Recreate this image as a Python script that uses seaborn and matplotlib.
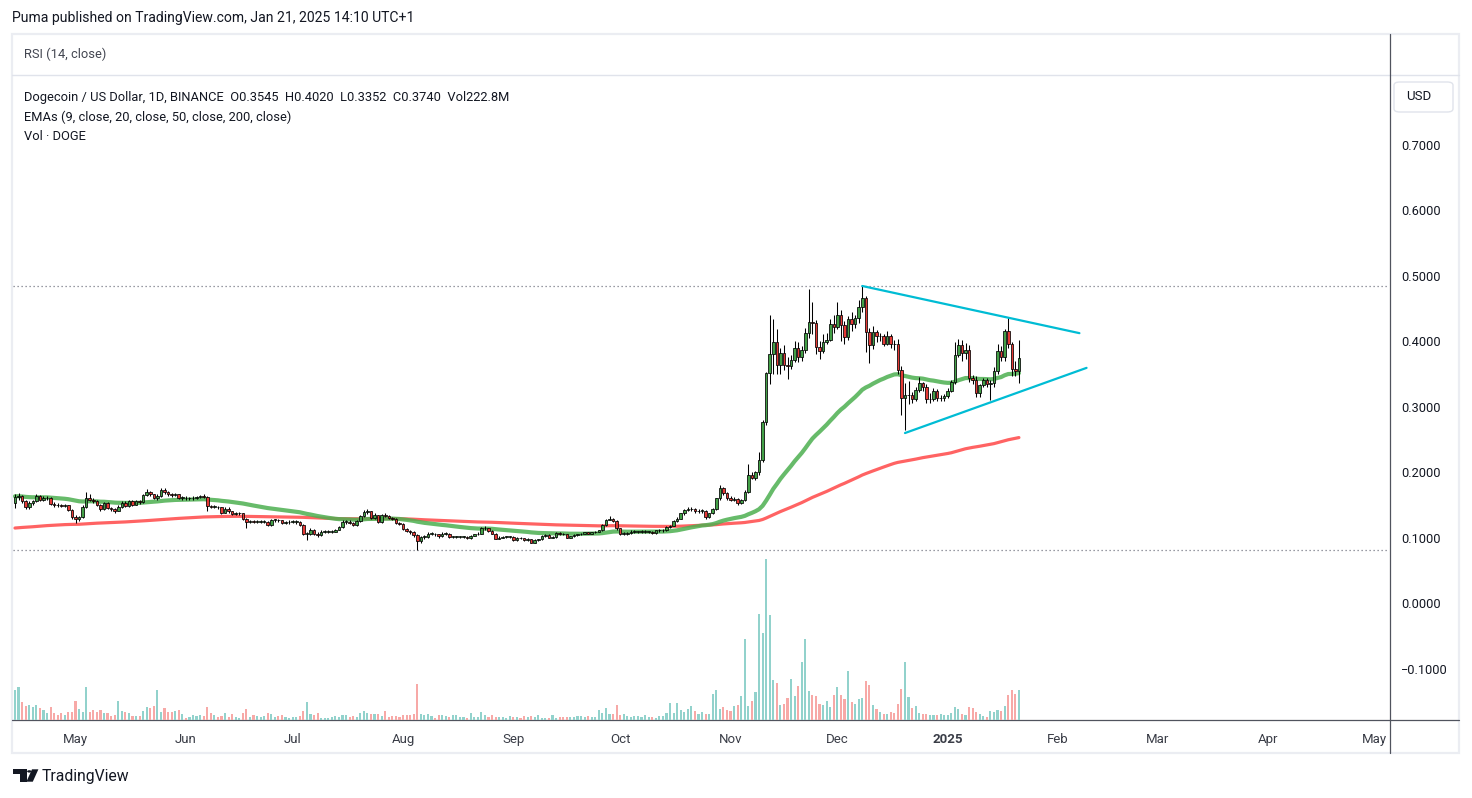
import numpy as np
import pandas as pd
import matplotlib
matplotlib.use("Agg")
import matplotlib.pyplot as plt
import seaborn as sns
from matplotlib.patches import FancyBboxPatch, Polygon, Rectangle, Circle
from matplotlib.lines import Line2D

# ---------------- data ----------------
start_date = "2024-04-14"
first_open = 0.152

close = [
    0.162, 0.163, 0.155, 0.147, 0.152, 0.156, 0.164, 0.158, 0.160, 0.161,
    0.151, 0.150, 0.149, 0.148, 0.149, 0.142, 0.132, 0.129, 0.131, 0.147,
    0.160, 0.158, 0.156, 0.150, 0.144, 0.152, 0.145, 0.143, 0.141, 0.147,
    0.153, 0.148, 0.155, 0.150, 0.155, 0.154, 0.165, 0.169, 0.166, 0.161,
    0.164, 0.172, 0.170, 0.166, 0.165, 0.166, 0.161, 0.161, 0.160, 0.160,
    0.161, 0.162, 0.163, 0.162, 0.148, 0.147, 0.147, 0.146, 0.138, 0.144,
    0.140, 0.136, 0.137, 0.137, 0.129, 0.124, 0.125, 0.124, 0.124, 0.124,
    0.124, 0.119, 0.127, 0.127, 0.126, 0.122, 0.123, 0.124, 0.124, 0.124,
    0.119, 0.106, 0.106, 0.112, 0.106, 0.104, 0.109, 0.109, 0.109, 0.109,
    0.112, 0.116, 0.124, 0.124, 0.122, 0.119, 0.125, 0.133, 0.139, 0.140,
    0.130, 0.134, 0.124, 0.134, 0.133, 0.130, 0.129, 0.122, 0.121, 0.113,
    0.110, 0.109, 0.104, 0.094, 0.101, 0.101, 0.106, 0.106, 0.105, 0.102,
    0.106, 0.106, 0.101, 0.101, 0.101, 0.101, 0.101, 0.099, 0.103, 0.105,
    0.106, 0.114, 0.114, 0.110, 0.106, 0.098, 0.100, 0.101, 0.101, 0.101,
    0.096, 0.100, 0.099, 0.096, 0.097, 0.092, 0.096, 0.097, 0.103, 0.104,
    0.100, 0.101, 0.107, 0.106, 0.105, 0.100, 0.102, 0.104, 0.105, 0.106,
    0.108, 0.106, 0.108, 0.109, 0.111, 0.119, 0.127, 0.129, 0.125, 0.114,
    0.106, 0.106, 0.107, 0.109, 0.109, 0.109, 0.109, 0.109, 0.109, 0.107,
    0.111, 0.111, 0.111, 0.116, 0.118, 0.125, 0.129, 0.137, 0.142, 0.143,
    0.143, 0.140, 0.141, 0.141, 0.131, 0.137, 0.143, 0.160, 0.175, 0.168,
    0.161, 0.157, 0.159, 0.152, 0.157, 0.170, 0.196, 0.191, 0.200, 0.218,
    0.276, 0.351, 0.380, 0.399, 0.363, 0.381, 0.363, 0.362, 0.371, 0.390,
    0.376, 0.386, 0.412, 0.429, 0.427, 0.391, 0.385, 0.399, 0.402, 0.426,
    0.422, 0.440, 0.424, 0.406, 0.433, 0.426, 0.435, 0.452, 0.465, 0.414,
    0.394, 0.414, 0.407, 0.407, 0.396, 0.407, 0.396, 0.395, 0.356, 0.3125,
    0.317, 0.318, 0.311, 0.325, 0.336, 0.330, 0.311, 0.312, 0.323, 0.313,
    0.313, 0.316, 0.324, 0.338, 0.379, 0.394, 0.381, 0.387, 0.343, 0.341,
    0.320, 0.333, 0.341, 0.334, 0.336, 0.354, 0.385, 0.376, 0.415, 0.396,
    0.357, 0.3545, 0.374,
]

high = [
    0.167, 0.168, 0.165, 0.157, 0.155, 0.158, 0.166, 0.165, 0.163, 0.163,
    0.162, 0.154, 0.152, 0.151, 0.151, 0.150, 0.143, 0.134, 0.133, 0.149,
    0.170, 0.166, 0.160, 0.158, 0.151, 0.154, 0.154, 0.147, 0.145, 0.149,
    0.156, 0.155, 0.157, 0.157, 0.157, 0.157, 0.167, 0.174, 0.171, 0.167,
    0.166, 0.176, 0.175, 0.171, 0.168, 0.168, 0.167, 0.163, 0.163, 0.162,
    0.163, 0.164, 0.165, 0.166, 0.164, 0.150, 0.149, 0.148, 0.147, 0.146,
    0.146, 0.141, 0.139, 0.139, 0.138, 0.130, 0.127, 0.127, 0.126, 0.126,
    0.126, 0.125, 0.129, 0.129, 0.129, 0.127, 0.125, 0.126, 0.126, 0.126,
    0.125, 0.120, 0.108, 0.114, 0.113, 0.108, 0.111, 0.111, 0.111, 0.111,
    0.113, 0.118, 0.126, 0.127, 0.126, 0.124, 0.127, 0.135, 0.142, 0.144,
    0.141, 0.137, 0.135, 0.136, 0.138, 0.134, 0.132, 0.130, 0.124, 0.122,
    0.115, 0.112, 0.110, 0.105, 0.103, 0.104, 0.108, 0.109, 0.107, 0.106,
    0.108, 0.109, 0.107, 0.103, 0.103, 0.103, 0.103, 0.103, 0.104, 0.106,
    0.108, 0.116, 0.117, 0.115, 0.111, 0.107, 0.102, 0.103, 0.103, 0.103,
    0.102, 0.101, 0.101, 0.100, 0.099, 0.098, 0.097, 0.098, 0.104, 0.106,
    0.105, 0.103, 0.108, 0.108, 0.107, 0.106, 0.103, 0.105, 0.106, 0.107,
    0.109, 0.109, 0.109, 0.110, 0.112, 0.121, 0.129, 0.133, 0.130, 0.126,
    0.115, 0.109, 0.109, 0.111, 0.111, 0.110, 0.112, 0.111, 0.110, 0.110,
    0.112, 0.113, 0.113, 0.117, 0.119, 0.126, 0.132, 0.138, 0.144, 0.146,
    0.146, 0.145, 0.143, 0.144, 0.142, 0.138, 0.145, 0.161, 0.180, 0.177,
    0.169, 0.164, 0.162, 0.160, 0.159, 0.172, 0.213, 0.200, 0.202, 0.230,
    0.279, 0.352, 0.440, 0.433, 0.418, 0.390, 0.394, 0.375, 0.378, 0.400,
    0.398, 0.392, 0.420, 0.479, 0.460, 0.432, 0.400, 0.410, 0.412, 0.434,
    0.440, 0.460, 0.448, 0.430, 0.438, 0.445, 0.440, 0.462, 0.484, 0.468,
    0.420, 0.423, 0.417, 0.412, 0.410, 0.415, 0.410, 0.402, 0.403, 0.362,
    0.336, 0.339, 0.322, 0.330, 0.345, 0.338, 0.335, 0.320, 0.328, 0.326,
    0.318, 0.319, 0.328, 0.340, 0.399, 0.403, 0.402, 0.397, 0.394, 0.348,
    0.347, 0.335, 0.344, 0.344, 0.341, 0.360, 0.395, 0.392, 0.419, 0.436,
    0.399, 0.370, 0.402,
]

low = [
    0.145, 0.158, 0.153, 0.143, 0.144, 0.149, 0.154, 0.155, 0.156, 0.157,
    0.149, 0.147, 0.146, 0.146, 0.146, 0.140, 0.129, 0.122, 0.125, 0.130,
    0.145, 0.155, 0.153, 0.148, 0.141, 0.142, 0.143, 0.140, 0.138, 0.140,
    0.145, 0.146, 0.147, 0.148, 0.149, 0.151, 0.152, 0.163, 0.163, 0.159,
    0.158, 0.162, 0.167, 0.164, 0.162, 0.163, 0.159, 0.158, 0.158, 0.157,
    0.158, 0.159, 0.160, 0.160, 0.141, 0.145, 0.145, 0.144, 0.136, 0.137,
    0.138, 0.134, 0.134, 0.134, 0.127, 0.114, 0.122, 0.122, 0.122, 0.122,
    0.122, 0.117, 0.118, 0.124, 0.124, 0.120, 0.120, 0.121, 0.122, 0.121,
    0.117, 0.104, 0.096, 0.104, 0.104, 0.101, 0.103, 0.107, 0.107, 0.107,
    0.108, 0.111, 0.115, 0.121, 0.120, 0.117, 0.118, 0.124, 0.132, 0.136,
    0.128, 0.128, 0.122, 0.122, 0.131, 0.128, 0.127, 0.120, 0.119, 0.111,
    0.108, 0.106, 0.101, 0.081, 0.092, 0.098, 0.100, 0.104, 0.102, 0.100,
    0.101, 0.104, 0.100, 0.099, 0.099, 0.099, 0.099, 0.097, 0.098, 0.102,
    0.104, 0.105, 0.112, 0.109, 0.105, 0.097, 0.097, 0.099, 0.099, 0.099,
    0.094, 0.095, 0.097, 0.095, 0.095, 0.091, 0.091, 0.095, 0.096, 0.101,
    0.099, 0.099, 0.100, 0.104, 0.104, 0.099, 0.099, 0.101, 0.103, 0.104,
    0.105, 0.105, 0.105, 0.107, 0.108, 0.110, 0.118, 0.126, 0.124, 0.111,
    0.104, 0.104, 0.104, 0.106, 0.107, 0.107, 0.107, 0.107, 0.107, 0.105,
    0.106, 0.109, 0.109, 0.110, 0.114, 0.117, 0.124, 0.128, 0.135, 0.140,
    0.140, 0.138, 0.138, 0.138, 0.129, 0.130, 0.136, 0.142, 0.158, 0.165,
    0.158, 0.155, 0.155, 0.149, 0.151, 0.155, 0.168, 0.189, 0.188, 0.196,
    0.216, 0.272, 0.335, 0.350, 0.350, 0.350, 0.355, 0.342, 0.358, 0.368,
    0.368, 0.370, 0.382, 0.405, 0.410, 0.380, 0.373, 0.382, 0.395, 0.400,
    0.412, 0.418, 0.400, 0.396, 0.402, 0.415, 0.420, 0.427, 0.445, 0.383,
    0.366, 0.388, 0.398, 0.400, 0.392, 0.394, 0.390, 0.387, 0.350, 0.2875,
    0.264, 0.304, 0.305, 0.308, 0.322, 0.323, 0.306, 0.306, 0.309, 0.308,
    0.308, 0.309, 0.313, 0.322, 0.334, 0.376, 0.370, 0.372, 0.338, 0.334,
    0.315, 0.315, 0.330, 0.330, 0.310, 0.330, 0.350, 0.370, 0.370, 0.389,
    0.347, 0.347, 0.3352,
]

volume = [
    30, 33, 18, 14, 15, 13, 15, 12, 10, 7,
    13, 7, 5, 7, 5, 8, 8, 19, 11, 8,
    33, 8, 10, 8, 10, 7, 7, 4, 5, 19,
    9, 8, 7, 4, 4, 4, 9, 13, 12, 14,
    30, 8, 12, 8, 8, 9, 10, 6, 2, 3,
    5, 4, 5, 4, 13, 7, 5, 3, 4, 7,
    3, 6, 3, 2, 7, 11, 3, 5, 4, 3,
    4, 7, 6, 3, 4, 5, 3, 2, 3, 3,
    4, 9, 18, 6, 5, 7, 2, 2, 2, 3,
    4, 3, 5, 5, 3, 4, 3, 7, 9, 7,
    6, 6, 6, 4, 9, 3, 4, 4, 3, 5,
    5, 5, 6, 36, 6, 5, 6, 4, 2, 5,
    5, 4, 3, 5, 5, 3, 3, 2, 7, 3,
    3, 8, 5, 3, 5, 3, 3,
    3, 2, 4, 3, 3, 2, 4, 3, 4, 3, 5, 2, 2, 2, 5, 2, 3, 3, 3, 3,
    3, 4, 4, 3, 4, 3, 3, 10,
    7, 12, 6, 6, 15, 5, 6, 4, 3, 4, 4, 3, 5, 3, 3, 2, 4, 4, 7, 17,
    7, 17, 10, 8, 11, 14, 9, 6, 8, 6,
    6, 26, 30, 11, 13, 10, 9, 14, 15, 24, 81, 14, 19, 28, 106, 87, 161, 105, 40, 37,
    15, 16, 22, 41, 24, 34, 58, 81, 29, 25,
    24, 16, 15, 19, 13, 25, 33, 25, 21, 49, 18,
    16, 21, 22, 39, 35, 15, 11, 8, 6, 6, 8, 7, 16, 31, 58, 23, 12, 14, 7, 6,
    6, 5, 5, 5, 6, 5, 5, 7, 13, 11, 6, 5, 13, 12, 8, 6, 4, 3, 9, 8,
    10, 9, 14, 25, 30, 26, 30,
]

ema50_seed = 0.163
ema200_seed = 0.114

upper_trend_dates = ["2024-12-08", "2025-02-07"]
upper_trend_values = [0.484, 0.412]
lower_trend_dates = ["2024-12-20", "2025-02-09"]
lower_trend_values = [0.2595, 0.359]

month_tick_dates = ["2024-05-01", "2024-06-01", "2024-07-01", "2024-08-01",
                    "2024-09-01", "2024-10-01", "2024-11-01", "2024-12-01",
                    "2025-01-01", "2025-02-01", "2025-03-01", "2025-04-01",
                    "2025-05-01"]
month_tick_labels = ["May", "Jun", "Jul", "Aug", "Sep", "Oct", "Nov", "Dec",
                     "2025", "Feb", "Mar", "Apr", "May"]
price_ticks = [0.7, 0.6, 0.5, 0.4, 0.3, 0.2, 0.1, 0.0, -0.1]

title_text = "Puma published on TradingView.com, Jan 21, 2025 14:10 UTC+1"
symbol_text = "Dogecoin / US Dollar, 1D, BINANCE"
last_volume_text = "222.8M"

# ---------------- derived ----------------
n = len(close)
assert len(high) == n and len(low) == n and len(volume) == n, (len(high), len(low), len(volume))
start = pd.Timestamp(start_date)
x = np.arange(n)
c = np.array(close)
o = np.concatenate([[first_open], c[:-1]])
h = np.array(high)
l = np.array(low)
v = np.array(volume, dtype=float)
up = c >= o

df = pd.DataFrame({"x": x, "close": c})
df["ema50"] = pd.Series([ema50_seed] + close).ewm(span=50, adjust=False).mean().values[1:]
df["ema200"] = pd.Series([ema200_seed] + close).ewm(span=200, adjust=False).mean().values[1:]

def to_x(dlist):
    return [(pd.Timestamp(d) - start).days for d in dlist]

# ---------------- figure ----------------
W, H = 1472, 798
sns.set_theme(style="white")
plt.rcParams["font.family"] = ["Roboto", "DejaVu Sans"]
plt.rcParams["axes.unicode_minus"] = True

fig = plt.figure(figsize=(W / 100, H / 100), dpi=100)
fig.patch.set_facecolor("white")

def fx(px):
    return px / W

def fy(py):
    return 1 - py / H

TXT = "#131722"
GRID = "#e0e3eb"
DARK = "#50535e"

left, right, top, bottom = 13, 1389, 76, 720
ax = fig.add_axes([fx(left), fy(bottom), fx(right - left), (bottom - top) / H])
vax = ax.twinx()
ax.set_zorder(3)
vax.set_zorder(2)
ax.patch.set_visible(False)
vax.patch.set_visible(False)

xmin, xmax = -0.56, 385.96
ymin, ymax = -0.1786, 0.8046
ax.set_xlim(xmin, xmax)
ax.set_ylim(ymin, ymax)
vax.set_ylim(0, v.max() * (bottom - top) / 161.0)

# volume
vol_colors = np.where(up, "#92d2cc", "#f7a9a7")
vax.bar(x, v, width=0.6, color=vol_colors, linewidth=0, zorder=1)
vax.set_yticks([])
for s in vax.spines.values():
    s.set_visible(False)

# EMAs
sns.lineplot(data=df, x="x", y="ema200", ax=ax, color="#ff5252", linewidth=2.3,
             alpha=0.9, zorder=2, legend=False)
sns.lineplot(data=df, x="x", y="ema50", ax=ax, color="#4caf50", linewidth=3.0,
             alpha=0.85, zorder=2, legend=False)

# candles
ax.vlines(x, l, h, color="black", linewidth=0.75, zorder=3)
body_bottom = np.minimum(o, c)
body_h = np.maximum(np.abs(c - o), 0.0006)
ax.bar(x, body_h, bottom=body_bottom, width=0.72,
       color=np.where(up, "#43a047", "#e53935"), edgecolor="black",
       linewidth=0.55, zorder=4)

# high / low dotted lines
ax.axhline(h.max(), color="#787b86", linestyle=(0, (1, 2.2)), linewidth=0.9, zorder=1)
ax.axhline(l.min(), color="#787b86", linestyle=(0, (1, 2.2)), linewidth=0.9, zorder=1)

# trend lines
tr_up = pd.DataFrame({"x": to_x(upper_trend_dates), "y": upper_trend_values})
tr_lo = pd.DataFrame({"x": to_x(lower_trend_dates), "y": lower_trend_values})
sns.lineplot(data=tr_up, x="x", y="y", ax=ax, color="#00bcd4", linewidth=1.6, zorder=5)
sns.lineplot(data=tr_lo, x="x", y="y", ax=ax, color="#00bcd4", linewidth=1.6, zorder=5)

# axes styling
for s in ax.spines.values():
    s.set_visible(False)
ax.set_xlabel("")
ax.set_ylabel("")
ax.grid(False)
ax.yaxis.tick_right()
ax.set_yticks(price_ticks)
ax.set_yticklabels([f"{t:.4f}".replace("-", "\u2212") for t in price_ticks])
ax.tick_params(axis="y", length=0, pad=8.5, labelsize=9.2, labelcolor=TXT)
ax.set_xticks(to_x(month_tick_dates))
ax.set_xticklabels(month_tick_labels)
ax.tick_params(axis="x", length=0, pad=9.5, labelsize=9.5, labelcolor="#3a3d47")
for lab in ax.get_xticklabels():
    if lab.get_text() == "2025":
        lab.set_fontweight("bold")

# ---------------- frame & decorations ----------------
fig.add_artist(Rectangle((fx(12), fy(753)), fx(1459 - 12), (753 - 34) / H,
                         fill=False, edgecolor="#ebedf2", linewidth=1.6,
                         transform=fig.transFigure, zorder=0))
fig.add_artist(Line2D([fx(12), fx(1459)], [fy(74.5), fy(74.5)], color=GRID,
                      linewidth=1.0, transform=fig.transFigure))
fig.add_artist(Line2D([fx(1389.5), fx(1389.5)], [fy(34), fy(753)], color=DARK,
                      linewidth=0.9, transform=fig.transFigure))
fig.add_artist(Line2D([fx(12), fx(1459)], [fy(719.5), fy(719.5)], color=DARK,
                      linewidth=0.9, transform=fig.transFigure))
fig.add_artist(FancyBboxPatch((fx(1394), fy(112)), fx(59), 30 / H,
                              boxstyle="round,pad=0,rounding_size=0.004",
                              facecolor="white", edgecolor=GRID, linewidth=1.0,
                              transform=fig.transFigure))
fig.text(fx(1419), fy(97), "USD", ha="center", va="center", fontsize=9.5, color=TXT)

fig.text(fx(12), fy(18), title_text, ha="left", va="center", fontsize=10.1, color=TXT)
fig.text(fx(24), fy(54), "RSI (14, close)", ha="left", va="center", fontsize=9.3, color="#434651")
legend_line = (f"{symbol_text}  O{o[-1]:.4f}  H{h[-1]:.4f}  L{l[-1]:.4f}  "
               f"C{c[-1]:.4f}  Vol{last_volume_text}")
fig.text(fx(24), fy(97), legend_line, ha="left", va="center", fontsize=9.3, color=TXT)
fig.text(fx(24), fy(117), "EMAs (9, close, 20, close, 50, close, 200, close)",
         ha="left", va="center", fontsize=9.3, color=TXT)
fig.text(fx(24), fy(137), "Vol \u00b7 DOGE", ha="left", va="center", fontsize=9.3, color=TXT)

# TradingView logo
def P(px, py):
    return (fx(px), fy(py))

fig.add_artist(Polygon([P(12.7, 769.3), P(26.7, 769.3), P(26.7, 781.7), P(20.3, 781.7),
                        P(20.3, 774.2), P(12.7, 774.2)], closed=True,
                       facecolor=TXT, edgecolor="none", transform=fig.transFigure))
fig.add_artist(Circle(P(29.3, 771.4), 2.2 / W, facecolor=TXT, edgecolor="none",
                      transform=fig.transFigure))
fig.add_artist(Polygon([P(32.0, 769.3), P(38.4, 769.3), P(32.8, 781.7), P(26.4, 781.7)],
                       closed=True, facecolor=TXT, edgecolor="none",
                       transform=fig.transFigure))
fig.text(fx(42), fy(776), "TradingView", ha="left", va="center", fontsize=11.3, color=TXT)

fig.savefig("out.png", dpi=100, facecolor="white")
